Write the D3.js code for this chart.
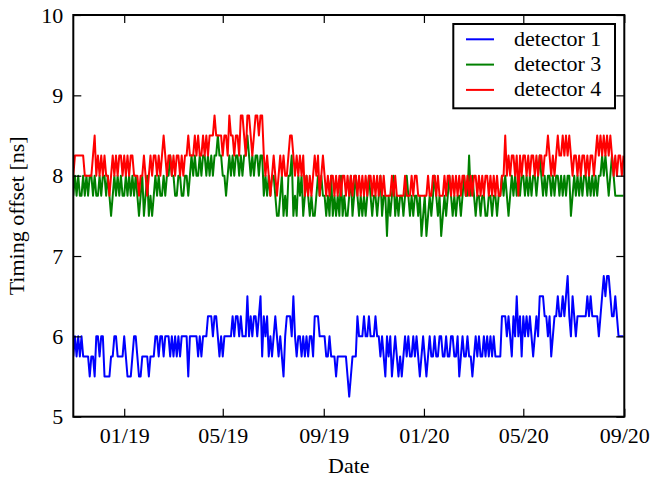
<!DOCTYPE html>
<html>
<head>
<meta charset="utf-8">
<script src="https://cdnjs.cloudflare.com/ajax/libs/d3/7.8.5/d3.min.js"></script>
<style>
    body { margin: 0; background: #fff; }
    text { font-family: "Liberation Serif", "DejaVu Serif", serif; fill: #000; }
</style>
</head>
<body>
<svg id="chart" width="653" height="477"></svg>
<script>

    // one reading every 2 days, starting 31 Oct 2018
    var startDate = "2018-10-31",
        endDate = "2020-09-01",
        stepDays = 2;

    var detector1 = [
        5.75, 6, 5.75, 6, 5.75, 6, 5.75, 5.75, 5.75, 5.75,
        5.5, 5.75, 5.75, 5.5, 6, 6, 5.75, 6, 6, 5.5,
        5.5, 5.5, 5.5, 5.75, 5.75, 6, 6, 5.75, 5.75, 5.75,
        5.75, 6, 5.75, 5.5, 5.5, 5.5, 5.75, 6, 6, 5.75,
        5.5, 5.5, 5.75, 5.75, 5.75, 5.75, 5.5, 5.75, 5.75, 5.75,
        6, 6, 5.75, 6, 6, 5.75, 6, 6, 6, 5.75,
        6, 5.75, 6, 5.75, 6, 5.75, 6, 6, 6, 6,
        5.5, 6, 6, 6, 6, 6, 5.75, 6, 5.75, 6,
        6, 6, 6.25, 6.25, 6.25, 6, 6.25, 6.25, 6, 5.75,
        6, 5.75, 6, 6, 6, 6, 6, 6.25, 6, 6.25,
        6.25, 6, 6.25, 6, 6, 6, 6.5, 6, 6.25, 6,
        6.25, 6.25, 6, 6.25, 6.5, 5.75, 6.25, 6, 6.25, 5.75,
        6, 5.75, 6, 6.25, 6, 5.75, 6, 5.75, 5.5, 6,
        6.25, 6.25, 6.25, 6, 6.5, 6, 5.75, 6, 6, 5.75,
        6, 5.75, 6, 5.75, 6, 6, 5.75, 6.25, 6.25, 6.25,
        6, 6, 6, 6, 5.75, 5.75, 6, 5.75, 5.75, 5.75,
        5.5, 5.75, 5.75, 5.75, 5.75, 5.75, 5.75, 5.5, 5.25, 5.5,
        5.75, 5.75, 5.75, 6.25, 6, 6, 6, 6.25, 6, 6,
        6.25, 6, 6, 6, 6.25, 6, 6, 5.75, 6, 5.75,
        5.5, 6, 5.75, 6, 5.5, 5.75, 6, 5.75, 5.5, 5.75,
        5.5, 5.75, 6, 5.75, 6, 5.75, 5.75, 6, 5.75, 6,
        5.75, 5.5, 5.75, 6, 5.75, 5.5, 5.75, 6, 5.75, 5.75,
        6, 5.75, 5.75, 6, 6, 5.75, 5.75, 6, 5.75, 5.75,
        6, 6, 5.75, 5.75, 6, 5.5, 5.75, 6, 5.75, 5.75,
        6, 5.75, 5.75, 5.5, 5.75, 6, 5.75, 6, 5.75, 5.75,
        6, 5.75, 6, 5.75, 6, 5.75, 6, 5.75, 5.75, 5.75,
        5.75, 6.25, 6.25, 6.25, 6, 6.25, 6, 5.75, 6.25, 6,
        6.5, 6, 6.25, 5.75, 6.25, 6, 6.25, 6, 6.25, 6,
        5.75, 6, 6.25, 6, 6.5, 6.5, 6.5, 6.25, 6.25, 6,
        6.25, 5.75, 6, 6.25, 6.25, 6.5, 6.25, 6.25, 6.5, 6.25,
        6.5, 6.75, 6.25, 6, 6.5, 6.25, 6, 6.25, 6.25, 6.25,
        6.25, 6.25, 6.25, 6.5, 6.25, 6.5, 6.25, 6.25, 6.25, 6.25,
        6, 6.25, 6.5, 6.75, 6.5, 6.75, 6.75, 6.5, 6.25, 6.25,
        6.5, 6.25, 6, 6, 6, 6
    ];

    var detector3 = [
        7.75, 8, 7.75, 8, 7.75, 7.75, 8, 7.75, 8, 7.75,
        8, 8, 7.75, 8, 7.75, 7.75, 8, 7.75, 8, 8,
        7.75, 8, 7.75, 7.5, 7.75, 8, 7.75, 8, 7.75, 8,
        7.75, 7.75, 8, 7.75, 8, 7.75, 8, 7.75, 8, 7.75,
        7.5, 7.75, 8, 7.5, 7.75, 8, 7.5, 7.75, 7.5, 7.75,
        8, 7.75, 8, 7.75, 7.75, 8, 7.75, 8, 8, 8.25,
        8, 8, 7.75, 7.75, 8, 8, 7.75, 7.75, 8, 8,
        7.75, 8, 8.25, 8, 8.25, 8, 8, 8.25, 8, 8.25,
        8.25, 8, 8.25, 8, 8.25, 8, 8.25, 8.25, 8.5, 8.25,
        8.25, 8, 8, 7.75, 8, 8.25, 8, 8.25, 8, 8.25,
        8.25, 8, 8.25, 8, 8.25, 8.25, 8.5, 8.25, 8, 8.25,
        8, 8.25, 8.25, 8, 8.25, 8.25, 7.75, 8, 7.75, 8,
        7.75, 8, 8, 7.75, 7.5, 7.5, 7.75, 8, 7.5, 7.75,
        7.5, 8, 8, 8.25, 7.5, 7.75, 7.5, 8, 7.75, 8,
        7.5, 7.75, 8, 7.75, 7.5, 7.75, 7.5, 7.5, 7.75, 8,
        7.75, 8, 7.75, 7.75, 7.5, 7.75, 7.5, 8, 7.5, 7.75,
        7.5, 7.75, 7.5, 8, 7.5, 7.75, 7.5, 7.5, 7.75, 8,
        7.5, 7.75, 8, 7.75, 7.5, 7.75, 7.5, 7.75, 7.5, 7.75,
        8, 7.75, 7.5, 7.75, 7.75, 7.5, 7.75, 8, 7.5, 7.75,
        7.75, 7.25, 7.75, 7.5, 7.75, 8, 7.5, 7.75, 7.5, 7.75,
        7.75, 7.5, 7.75, 8, 7.75, 7.5, 7.75, 7.5, 7.75, 7.75,
        7.5, 7.75, 7.25, 7.5, 7.75, 7.25, 7.5, 7.75, 7.5, 7.75,
        8, 7.75, 7.5, 7.75, 7.25, 7.5, 7.75, 7.5, 7.75, 8,
        7.75, 7.5, 7.75, 7.5, 7.75, 7.75, 7.5, 7.75, 8, 7.75,
        7.75, 8.25, 7.75, 8, 7.75, 7.5, 7.75, 7.75, 7.5, 7.75,
        7.75, 7.5, 7.5, 7.75, 7.75, 7.5, 7.75, 7.75, 7.5, 7.75,
        7.75, 8, 7.75, 8, 7.75, 7.5, 7.75, 8, 7.75, 8,
        7.75, 8, 7.75, 8, 8, 7.75, 8, 7.75, 8, 7.75,
        8, 8, 7.75, 8, 8.25, 8, 7.75, 8, 7.75, 8,
        8, 7.75, 8, 7.75, 8, 8, 7.75, 8, 7.75, 8,
        7.75, 8, 8, 7.5, 7.75, 8, 7.75, 8, 7.75, 8,
        7.75, 8, 8, 7.75, 8, 7.75, 8, 7.75, 8, 7.75,
        8, 8, 8.25, 8, 8.25, 8, 7.75, 8, 8.25, 8,
        7.75, 7.75, 7.75, 7.75, 7.75, 7.75
    ];

    var detector4 = [
        8, 8.25, 8.25, 8.25, 8.25, 8.25, 8.25, 8, 8, 8,
        8, 8, 8.25, 8.5, 8, 8.25, 8, 8.25, 8, 8.25,
        8, 8, 7.75, 8, 8.25, 8, 8.25, 8, 8.25, 8.25,
        8, 8.25, 8, 8.25, 8, 8.25, 8.25, 8, 8, 8,
        7.75, 8, 8, 8.25, 8, 7.75, 8, 8.25, 8, 8.25,
        8.25, 8, 8.25, 8, 8.25, 8.5, 8.25, 8, 8.25, 8.25,
        8, 8.25, 8, 8.25, 8.25, 8, 8.25, 8, 8.25, 8.25,
        8.5, 8.25, 8.25, 8.25, 8.5, 8.25, 8.5, 8.25, 8.25, 8.5,
        8.25, 8.5, 8.25, 8.5, 8.5, 8.5, 8.75, 8.5, 8.5, 8.5,
        8.5, 8.25, 8.5, 8.5, 8.25, 8.75, 8.5, 8.5, 8.25, 8.5,
        8.5, 8.25, 8.75, 8.75, 8.5, 8.25, 8.75, 8.75, 8.5, 8.25,
        8.5, 8.75, 8.75, 8.5, 8.75, 8.75, 8.25, 8, 8.25, 8,
        7.75, 8, 8.25, 8, 7.75, 8, 8.25, 8, 8.25, 8,
        8, 8.25, 8.5, 8.5, 8.25, 8, 8.25, 8, 8.25, 8,
        8.25, 7.75, 8, 7.75, 8, 7.75, 8, 8.25, 8, 8.25,
        7.75, 8, 8.25, 8, 7.75, 8, 7.75, 8, 8, 7.75,
        8, 7.75, 8, 7.75, 8, 8, 7.75, 8, 7.75, 8,
        7.75, 8, 8, 7.75, 8, 7.75, 8, 7.75, 8, 7.75,
        8, 8, 7.75, 8, 7.75, 8, 7.75, 8, 7.75, 8,
        7.75, 7.75, 7.75, 7.75, 8, 7.75, 8, 7.75, 7.75, 7.75,
        7.75, 7.75, 8, 7.75, 7.75, 7.75, 8, 7.75, 8, 8,
        7.75, 7.75, 7.75, 7.75, 7.75, 7.75, 8, 7.75, 7.75, 8,
        8, 7.75, 8, 7.75, 7.75, 7.75, 8, 7.75, 8, 8,
        7.75, 8, 7.75, 8, 7.75, 8, 7.75, 8, 8, 7.75,
        8, 7.75, 8, 7.75, 8, 8, 7.75, 8, 7.75, 8,
        7.75, 8, 8, 7.75, 8, 7.75, 8, 7.75, 8, 7.75,
        7.75, 8, 8, 8.5, 8, 8.25, 8, 8.25, 8.25, 8,
        8.25, 7.75, 8.25, 8, 8.25, 8.25, 8, 8.25, 8, 8.25,
        8.25, 8, 8.25, 8, 8.25, 8.25, 8, 8.25, 8.25, 8.5,
        8.25, 8, 8.25, 8, 8.25, 8.5, 8.25, 8.25, 8.5, 8.25,
        8.5, 8.25, 8.5, 8.25, 8, 8.25, 8.25, 8, 8.25, 8,
        8.25, 8.25, 8, 8.25, 8, 8.25, 8.25, 8, 8.25, 8.5,
        8.25, 8.5, 8.25, 8.5, 8.25, 8.5, 8.25, 8.5, 8.25, 8,
        8.25, 8, 8.25, 8.25, 8, 8.25
    ];

    var seriesNames = ["detector 1", "detector 3", "detector 4"];
    var seriesColors = ["#0000ff", "#008000", "#ff0000"];

    var xTickDates = ["2019-01-01", "2019-05-01", "2019-09-01", "2020-01-01", "2020-05-01", "2020-09-01"];
    var yTicks = [5, 6, 7, 8, 9, 10];

    var margin = { left: 73.3, top: 15, right: 653 - 624.3, bottom: 477 - 416.7 },
        width = 653 - margin.left - margin.right,
        height = 477 - margin.top - margin.bottom,
        fontSize = 22,
        tickLength = 8;

    var parseDate = d3.utcParse("%Y-%m-%d");

    var xScale = d3.scaleUtc()
        .domain([parseDate(startDate), parseDate(endDate)])
        .range([0, width]);

    var yScale = d3.scaleLinear()
        .domain([5, 10])
        .range([height, 0]);

    var toPoints = function (values) {
        return values.map(function (v, i) {
            return { date: d3.utcDay.offset(parseDate(startDate), i * stepDays), value: v };
        });
    };

    var series = [detector1, detector3, detector4].map(function (values, i) {
        return { name: seriesNames[i], color: seriesColors[i], points: toPoints(values) };
    });

    var line = d3.line()
        .x(function (d) { return xScale(d.date); })
        .y(function (d) { return yScale(d.value); });

    var svg = d3.select("#chart");

    var plot = svg.append("g")
        .attr("transform", "translate(" + margin.left + "," + margin.top + ")");

    plot.append("clipPath")
        .attr("id", "plot-clip")
        .append("rect")
        .attr("width", width)
        .attr("height", height);

    plot.append("g")
        .attr("clip-path", "url(#plot-clip)")
        .selectAll("path")
        .data(series)
        .enter().append("path")
        .attr("d", function (d) { return line(d.points); })
        .attr("fill", "none")
        .attr("stroke", function (d) { return d.color; })
        .attr("stroke-width", 2)
        .attr("stroke-linejoin", "round");

    var xTicks = xTickDates.map(parseDate);

    // ticks point inwards on all four sides, labels only bottom and left
    var styleAxis = function (g) {
        g.select(".domain").remove();
        g.selectAll(".tick line").attr("stroke", "#000").attr("stroke-width", 1.2);
        g.selectAll("text").style("font-size", fontSize + "px").attr("fill", "#000");
        g.attr("font-family", null);
    };

    plot.append("g")
        .attr("transform", "translate(0," + height + ")")
        .call(d3.axisBottom(xScale).tickValues(xTicks).tickSize(-tickLength).tickPadding(11)
            .tickFormat(d3.utcFormat("%m/%y")))
        .call(styleAxis);

    plot.append("g")
        .call(d3.axisTop(xScale).tickValues(xTicks).tickSize(-tickLength).tickFormat(""))
        .call(styleAxis);

    plot.append("g")
        .call(d3.axisLeft(yScale).tickValues(yTicks).tickSize(-tickLength).tickPadding(10)
            .tickFormat(d3.format("d")))
        .call(styleAxis);

    plot.append("g")
        .attr("transform", "translate(" + width + ",0)")
        .call(d3.axisRight(yScale).tickValues(yTicks).tickSize(-tickLength).tickFormat(""))
        .call(styleAxis);

    plot.append("rect")
        .attr("width", width)
        .attr("height", height)
        .attr("fill", "none")
        .attr("stroke", "#000")
        .attr("stroke-width", 2);

    svg.append("text")
        .attr("x", margin.left + width / 2)
        .attr("y", 473)
        .attr("text-anchor", "middle")
        .style("font-size", fontSize + "px")
        .text("Date");

    svg.append("text")
        .attr("transform", "translate(24," + (margin.top + height / 2) + ") rotate(-90)")
        .attr("text-anchor", "middle")
        .style("font-size", fontSize + "px")
        .text("Timing offset [ns]");

    // legend, upper right
    var legend = plot.append("g")
        .attr("transform", "translate(" + (453.3 - margin.left) + "," + (24 - margin.top) + ")");

    legend.append("rect")
        .attr("width", 161.7)
        .attr("height", 84.3)
        .attr("fill", "#fff")
        .attr("stroke", "#000")
        .attr("stroke-width", 2);

    var rows = legend.selectAll(".legend-row")
        .data(series)
        .enter().append("g")
        .classed("legend-row", true)
        .attr("transform", function (d, i) { return "translate(0," + (15.3 + i * 25.3) + ")"; });

    rows.append("line")
        .attr("x1", 12.7)
        .attr("x2", 40.7)
        .attr("stroke", function (d) { return d.color; })
        .attr("stroke-width", 2);

    rows.append("text")
        .attr("x", 60.7)
        .attr("y", 6.5)
        .style("font-size", fontSize + "px")
        .text(function (d) { return d.name; });

</script>
</body>
</html>
